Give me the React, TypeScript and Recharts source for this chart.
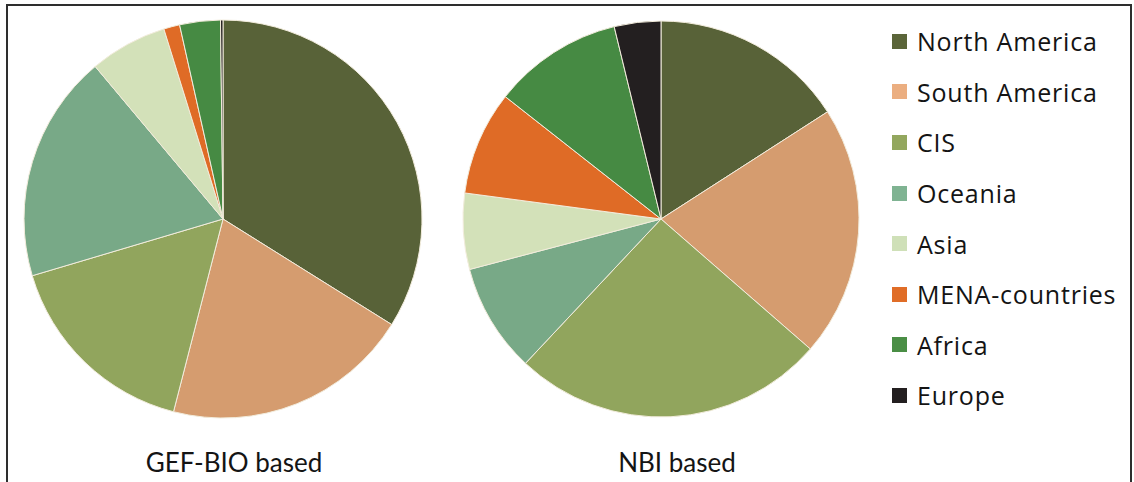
import { Cell, Legend, Pie, PieChart } from "recharts";

const regions = [
  "North America",
  "South America",
  "CIS",
  "Oceania",
  "Asia",
  "MENA-countries",
  "Africa",
  "Europe",
];

// share of each region (%), read clockwise from 12 o'clock
const gefBioValues = [33.9, 20.1, 16.4, 18.5, 6.3, 1.3, 3.3, 0.2];
const nbiValues = [15.9, 20.5, 25.6, 8.9, 6.2, 8.5, 10.6, 3.8];

const chartTitles = ["GEF-BIO based", "NBI based"];

const COLORS = [
  "#586238",
  "#d59c6f",
  "#91a55d",
  "#78a987",
  "#d3e1b9",
  "#df6b26",
  "#468a43",
  "#231f20",
];

const LEGEND_COLORS = [
  "#5b6539",
  "#ebae80",
  "#93a75e",
  "#7fb392",
  "#cfe0b8",
  "#e06d27",
  "#4a8e45",
  "#231f20",
];

const gefBioData = regions.map((name, i) => ({ name, value: gefBioValues[i] }));
const nbiData = regions.map((name, i) => ({ name, value: nbiValues[i] }));

function RegionLegend() {
  return (
    <div style={{ fontFamily: "'Open Sans', sans-serif" }}>
      {regions.map((name, i) => (
        <div
          key={name}
          style={{
            display: "flex",
            alignItems: "center",
            height: 50.6,
            fontSize: 25,
            letterSpacing: 0.8,
            color: "#141414",
          }}
        >
          <span
            style={{
              width: 15,
              height: 15,
              background: LEGEND_COLORS[i],
              marginRight: 10,
              display: "inline-block",
            }}
          />
          {name}
        </div>
      ))}
    </div>
  );
}

export default function App() {
  return (
    <div
      style={{
        position: "fixed",
        left: 0,
        top: 0,
        width: 1134,
        height: 482,
        background: "#fff",
        overflow: "hidden",
      }}
    >
      <div
        style={{
          position: "absolute",
          left: 6,
          top: 4,
          width: 1122,
          height: 520,
          border: "2px solid #2e2e2e",
        }}
      />
      <PieChart
        width={1134}
        height={482}
        margin={{ top: 0, right: 0, bottom: 0, left: 0 }}
        style={{ position: "absolute", left: 0, top: 0 }}
      >
        <Pie
          data={gefBioData}
          dataKey="value"
          nameKey="name"
          cx={223}
          cy={219}
          outerRadius={199}
          startAngle={90}
          endAngle={-270}
          stroke="#f2ecdc"
          strokeWidth={1}
          isAnimationActive={false}
          legendType="none"
        >
          {gefBioData.map((entry, index) => (
            <Cell key={`gef-${index}`} fill={COLORS[index]} />
          ))}
        </Pie>
        <Pie
          data={nbiData}
          dataKey="value"
          nameKey="name"
          cx={661}
          cy={219}
          outerRadius={198}
          startAngle={90}
          endAngle={-270}
          stroke="#f2ecdc"
          strokeWidth={1}
          isAnimationActive={false}
          legendType="none"
        >
          {nbiData.map((entry, index) => (
            <Cell key={`nbi-${index}`} fill={COLORS[index]} />
          ))}
        </Pie>
        <Legend
          layout="vertical"
          align="right"
          verticalAlign="top"
          content={() => <RegionLegend />}
          wrapperStyle={{ left: 892, top: 16, width: 240 }}
        />
      </PieChart>
      {chartTitles.map((title, i) => (
        <div
          key={title}
          style={{
            position: "absolute",
            left: i === 0 ? 134 : 577,
            width: 200,
            top: 447,
            textAlign: "center",
            fontFamily: "Lato, sans-serif",
            fontSize: 26,
            color: "#141414",
            lineHeight: "30px",
          }}
        >
          {title}
        </div>
      ))}
    </div>
  );
}
